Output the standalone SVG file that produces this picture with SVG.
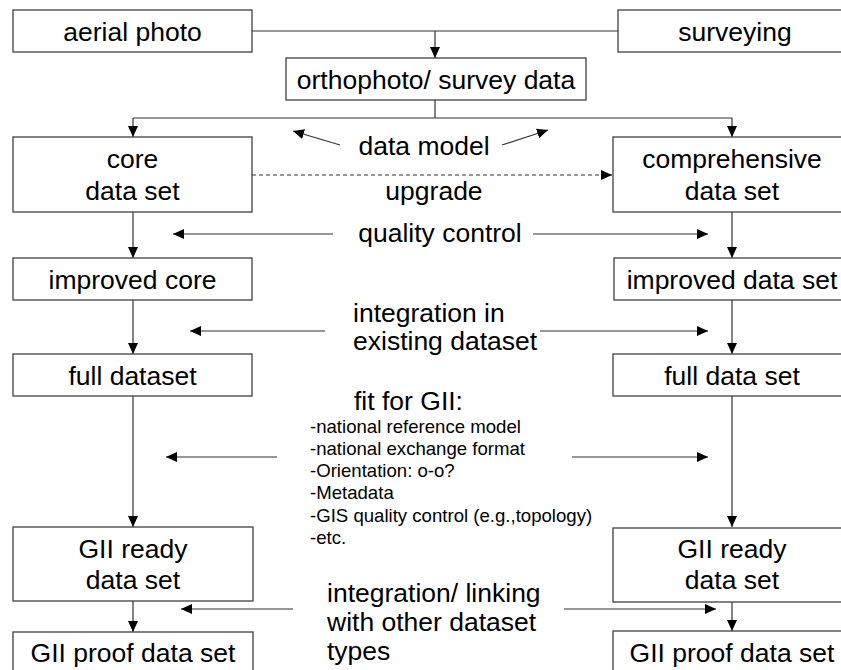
<svg xmlns="http://www.w3.org/2000/svg" width="841" height="670" viewBox="0 0 841 670">
<style>
.box{fill:#fff;stroke:#404040;stroke-width:1.3}
.t{font-family:"Liberation Sans",Arial,sans-serif;font-size:26.5px;fill:#000}
.c{text-anchor:middle}
.s{font-family:"Liberation Sans",Arial,sans-serif;font-size:18.6px;fill:#000}
.ln{fill:none;stroke:#333;stroke-width:1.2}
.dash{stroke-dasharray:4 3}
</style>
<defs>
<marker id="ah" markerUnits="userSpaceOnUse" markerWidth="12" markerHeight="12" viewBox="0 0 12 12" refX="11" refY="6" orient="auto">
<path d="M0,1 L11,6 L0,11 Z" fill="#000"/>
</marker>
</defs>
<rect width="841" height="670" fill="#fff"/>
<g id="connectors">
<path class="ln" d="M252,31 H618"/>
<path class="ln" d="M435,31 V58" marker-end="url(#ah)"/>
<path class="ln" d="M435,100 V118 M133,118 H732"/>
<path class="ln" d="M133,118 V137" marker-end="url(#ah)"/>
<path class="ln" d="M732,118 V137" marker-end="url(#ah)"/>
<path class="ln" d="M340,145 L293,131" marker-end="url(#ah)"/>
<path class="ln" d="M502,145 L548,130" marker-end="url(#ah)"/>
<path class="ln dash" d="M252,175 H612" marker-end="url(#ah)"/>
<path class="ln" d="M133,212 V258" marker-end="url(#ah)"/>
<path class="ln" d="M732,212 V258" marker-end="url(#ah)"/>
<path class="ln" d="M333,234 H173" marker-end="url(#ah)"/>
<path class="ln" d="M533,234 H708" marker-end="url(#ah)"/>
<path class="ln" d="M133,300 V354" marker-end="url(#ah)"/>
<path class="ln" d="M732,300 V354" marker-end="url(#ah)"/>
<path class="ln" d="M325,331 H190" marker-end="url(#ah)"/>
<path class="ln" d="M540,331 H708" marker-end="url(#ah)"/>
<path class="ln" d="M133,396 V527" marker-end="url(#ah)"/>
<path class="ln" d="M732,396 V527" marker-end="url(#ah)"/>
<path class="ln" d="M277,457 H166" marker-end="url(#ah)"/>
<path class="ln" d="M572,457 H708" marker-end="url(#ah)"/>
<path class="ln" d="M133,601 V632" marker-end="url(#ah)"/>
<path class="ln" d="M732,602 V631" marker-end="url(#ah)"/>
<path class="ln" d="M293,609 H181" marker-end="url(#ah)"/>
<path class="ln" d="M564,609 H716" marker-end="url(#ah)"/>
</g>
<g id="aerial"><rect class="box" x="13" y="10" width="239" height="42"/><text class="t c" x="132.5" y="41">aerial photo</text></g>
<g id="surveying"><rect class="box" x="618" y="10" width="234" height="42"/><text class="t c" x="735" y="41">surveying</text></g>
<g id="ortho"><rect class="box" x="286" y="58" width="300" height="42"/><text class="t c" x="436" y="89">orthophoto/ survey data</text></g>
<g id="core"><rect class="box" x="13" y="137" width="239" height="75"/><text class="t c" x="132.5" y="168">core</text><text class="t c" x="132.5" y="200">data set</text></g>
<g id="comprehensive"><rect class="box" x="613" y="137" width="238" height="75"/><text class="t c" x="732" y="168">comprehensive</text><text class="t c" x="732" y="200">data set</text></g>
<g id="improvedcore"><rect class="box" x="13" y="258" width="239" height="42"/><text class="t c" x="132.5" y="289">improved core</text></g>
<g id="improvedset"><rect class="box" x="614" y="258" width="237" height="42"/><text class="t c" x="732" y="289">improved data set</text></g>
<g id="fullleft"><rect class="box" x="13" y="354" width="239" height="42"/><text class="t c" x="132.5" y="385">full dataset</text></g>
<g id="fullright"><rect class="box" x="613" y="354" width="238" height="42"/><text class="t c" x="732" y="385">full data set</text></g>
<g id="readyleft"><rect class="box" x="13" y="527" width="240" height="74"/><text class="t c" x="133" y="558">GII ready</text><text class="t c" x="133" y="589">data set</text></g>
<g id="readyright"><rect class="box" x="613" y="528" width="238" height="74"/><text class="t c" x="732" y="558">GII ready</text><text class="t c" x="732" y="589">data set</text></g>
<g id="proofleft"><rect class="box" x="13" y="632" width="240" height="50"/><text class="t c" x="133" y="662">GII proof data set</text></g>
<g id="proofright"><rect class="box" x="613" y="631" width="238" height="50"/><text class="t c" x="732" y="662">GII proof data set</text></g>
<g id="labels">
<text class="t c" x="424" y="155">data model</text>
<text class="t c" x="434" y="200">upgrade</text>
<text class="t c" x="440" y="242">quality control</text>
<text class="t" x="353" y="322">integration in</text>
<text class="t" x="353" y="350">existing dataset</text>
<text class="t" x="354" y="410">fit for GII:</text>
<text class="s" x="310" y="433">-national reference model</text>
<text class="s" x="310" y="455">-national exchange format</text>
<text class="s" x="310" y="477">-Orientation: o-o?</text>
<text class="s" x="310" y="499">-Metadata</text>
<text class="s" x="310" y="522">-GIS quality control (e.g.,topology)</text>
<text class="s" x="310" y="544">-etc.</text>
<text class="t" x="327" y="602">integration/ linking</text>
<text class="t" x="327" y="631">with other dataset</text>
<text class="t" x="327" y="660">types</text>
</g>
</svg>
